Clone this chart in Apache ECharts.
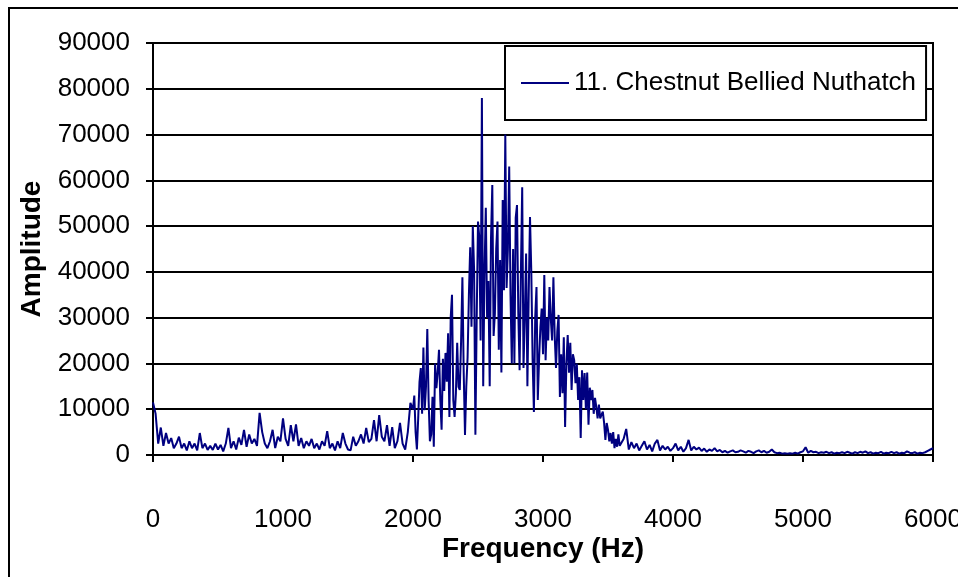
<!DOCTYPE html>
<html>
<head>
<meta charset="utf-8">
<script src="https://cdn.jsdelivr.net/npm/echarts@6/dist/echarts.min.js"></script>
<style>
  html, body { margin: 0; padding: 0; background: #fff; }
  #chart { width: 958px; height: 577px; }
</style>
</head>
<body>
<div id="chart"></div>
<script>
// spectrum of one recording
const seriesName = '11. Chestnut Bellied Nuthatch'

// 0 - 1980 Hz, every 20 Hz
const lowStart = 0
const lowStep = 20
const lowBand = [
  11500, 9000, 2500, 6000, 2000, 4800, 2500, 3700, 1500, 2500,
  4000, 1500, 2500, 1000, 3000, 1500, 2500, 1000, 4800, 1500,
  2500, 1100, 2000, 1100, 2500, 1200, 2200, 800, 2500, 5900,
  1500, 3000, 1200, 3800, 2200, 5500, 1800, 4500, 2500, 3500,
  2000, 9200, 5000, 2500, 1500, 3000, 5500, 1500, 4000, 3000,
  8000, 3500, 2000, 6500, 3000, 6700, 2000, 3700, 1500, 3000,
  2000, 3500, 1500, 2500, 1200, 3000, 2000, 5200, 1500, 2500,
  1000, 3000, 1500, 4800, 2500, 1200, 1000, 4000, 2000, 3000,
  4500, 2500, 5900, 2800, 3500, 7600, 3000, 8700, 4000, 3000,
  6500, 2000, 6100, 1500, 3000, 7000, 2500, 1200, 5000, 11400
]

// 2000 - 3590 Hz, every 10 Hz (the song band)
const peakStart = 2000
const peakStep = 10
const peakBand = [
  10000, 13000, 5000, 1200, 8000, 16000, 19000, 9000, 23500, 9800,
  15000, 27500, 12000, 3000, 4500, 12700, 1800, 20000, 14600, 18000,
  23000, 12000, 5500, 21000, 14000, 22300, 16000, 26600, 8300, 30000,
  35000, 12000, 8300, 13500, 24500, 14900, 14200, 25000, 38800, 18000,
  4400, 15000, 21400, 35000, 45400, 28000, 50000, 40400, 4400, 30000,
  51000, 47600, 25000, 78000, 15000, 40000, 54000, 30000, 38000, 15000,
  47400, 59000, 26000, 31000, 45000, 51000, 23000, 42600, 18000, 55700,
  36000, 70000, 36500, 45000, 63000, 35000, 20000, 45000, 20000, 51800,
  54600, 31000, 18500, 40000, 58500, 19000, 30000, 44000, 15000, 35000,
  52000, 40000, 21000, 9400, 30000, 36700, 12000, 21000, 28000, 32000,
  22000, 39300, 20700, 30000, 25000, 36700, 29800, 25000, 38800, 26000,
  19000, 27000, 30600, 12700, 22000, 13500, 25700, 6100, 20000, 26200,
  18000, 24500, 14200, 22000, 20700, 15700, 20000, 12000, 17000, 3700,
  18500, 12000, 17900, 10000, 18000, 6600, 14700, 12000, 14200, 9000,
  12500, 10500, 8000, 11000, 8000, 7600, 9500, 7000, 3300, 7000,
  5500, 3000, 4800, 2500, 5000, 1500, 3500, 1800, 4500, 2000
]

// 3600 - 6000 Hz, every 20 Hz
const highStart = 3600
const highStep = 20
const highBand = [
  1800, 3500, 5700, 1200, 2800, 1500, 2500, 1000, 2000, 3000,
  1200, 2200, 800, 2500, 3300, 1000, 2000, 1200, 1800, 900,
  1500, 2500, 1000, 1800, 700, 1500, 3300, 1000, 1800, 1200,
  1600, 900, 1400, 700, 1200, 900, 1500, 800, 1100, 600,
  900, 500, 800, 1000, 600, 700, 1000, 800, 500, 900,
  700, 400, 800, 1000, 600, 900, 500, 700, 1200, 600,
  400, 500, 300, 400, 300, 400, 300, 500, 300, 600,
  800, 1700, 500, 900, 600, 700, 400, 600, 500, 700,
  400, 600, 300, 500, 400, 600, 400, 700, 500, 300,
  600, 400, 700, 500, 800, 400, 600, 300, 500, 400,
  700, 300, 500, 400, 700, 400, 600, 300, 500, 400,
  800, 500, 400, 600, 300, 500, 400, 600, 900, 1200,
  1500
]

const xMin = 0
const xMax = 6000
const xStep = 1000
const yMin = 0
const yMax = 90000
const yStep = 10000

const points = [].concat(
  lowBand.map((a, i) => [lowStart + i * lowStep, a]),
  peakBand.map((a, i) => [peakStart + i * peakStep, a]),
  highBand.map((a, i) => [highStart + i * highStep, a])
)

const font = 'Arial, "Liberation Sans", sans-serif'
const black = '#000'

const option = {
  animation: false,
  backgroundColor: '#fff',
  grid: {
    left: 153,
    right: 25,
    top: 43,
    bottom: 122,
    outerBoundsMode: 'none',
    containLabel: false,
    show: true,
    borderColor: black,
    borderWidth: 2
  },
  legend: {
    data: [{ name: seriesName, icon: 'rect' }],
    left: 505,
    top: 46,
    padding: [24, 10, 24, 16],
    itemWidth: 48,
    itemHeight: 2,
    itemGap: 6,
    backgroundColor: '#fff',
    borderColor: black,
    borderWidth: 2,
    textStyle: { color: black, fontSize: 26, fontFamily: font }
  },
  xAxis: {
    type: 'value',
    min: xMin,
    max: xMax,
    interval: xStep,
    name: 'Frequency (Hz)',
    nameLocation: 'middle',
    nameGap: 80,
    nameMoveOverlap: false,
    nameTextStyle: { color: black, fontSize: 28, fontWeight: 'bold', fontFamily: font },
    axisLine: { show: true, onZero: false, lineStyle: { color: black, width: 2 } },
    axisTick: { show: true, inside: false, length: 7, lineStyle: { color: black, width: 2 } },
    axisLabel: { color: black, fontSize: 26, fontFamily: font, margin: 52, formatter: v => String(v) },
    splitLine: { show: false }
  },
  yAxis: {
    type: 'value',
    min: yMin,
    max: yMax,
    interval: yStep,
    name: 'Amplitude',
    nameLocation: 'middle',
    nameGap: 107,
    nameMoveOverlap: false,
    nameRotate: 90,
    nameTextStyle: { color: black, fontSize: 28, fontWeight: 'bold', fontFamily: font },
    axisLine: { show: true, lineStyle: { color: black, width: 2 } },
    axisTick: { show: true, inside: false, length: 7, lineStyle: { color: black, width: 2 } },
    axisLabel: { color: black, fontSize: 26, fontFamily: font, margin: 23, formatter: v => String(v) },
    splitLine: { show: true, lineStyle: { color: black, width: 2 } }
  },
  graphic: [{
    type: 'rect',
    z: -1,
    shape: { x: 9, y: 8, width: 980, height: 600 },
    style: { fill: 'none', stroke: black, lineWidth: 2 }
  }],
  series: [{
    name: seriesName,
    type: 'line',
    symbol: 'none',
    sampling: false,
    lineStyle: { color: '#000080', width: 2 },
    itemStyle: { color: '#000080' },
    data: points
  }]
}

const chart = echarts.init(document.getElementById('chart'))
chart.setOption(option)
</script>
</body>
</html>
